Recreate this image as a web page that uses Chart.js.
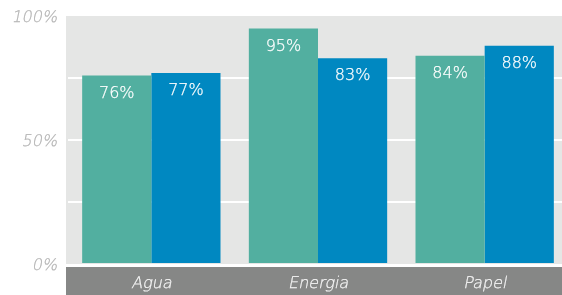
<!DOCTYPE html>
<html>
<head>
<meta charset="utf-8">
<script src="https://cdn.jsdelivr.net/npm/chart.js@4"></script>
<style>
  html, body { margin: 0; padding: 0; overflow: hidden; background: #fff; }
</style>
</head>
<body>
<canvas id="chart" width="568" height="295"></canvas>
<script>
const categories = ['Agua', 'Energia', 'Papel'];
const serieA = [76, 95, 84];
const serieB = [77, 83, 88];
const yTicks = [0, 50, 100];

const FONT = '200 16px "DejaVu Sans", sans-serif';

// light text, slightly thickened; optional slant since the light face has no italic
function label(ctx, text, x, y, slant) {
  ctx.save();
  ctx.translate(x, y);
  if (slant) ctx.transform(1, 0, -0.2, 1, 0, 0);
  ctx.strokeStyle = ctx.fillStyle;
  ctx.lineWidth = 0.25;
  ctx.fillText(text, 0, 0);
  ctx.strokeText(text, 0, 0);
  ctx.restore();
}

// gray plot background + dark band under the axis
const backdrop = {
  id: 'backdrop',
  beforeDraw(chart) {
    const { ctx, chartArea } = chart;
    const left = chartArea.left - 2;
    ctx.save();
    ctx.fillStyle = '#e5e6e5';
    ctx.fillRect(left, chartArea.top, chartArea.right - left, chartArea.bottom - chartArea.top);
    ctx.fillStyle = '#868786';
    ctx.fillRect(left, chartArea.bottom + 3, chartArea.right - left, chart.height - chartArea.bottom - 3);
    ctx.restore();
  },
  afterDraw(chart) {
    const { ctx, chartArea } = chart;
    const x = chart.scales.x;
    const y = chart.scales.y;
    ctx.save();
    ctx.font = FONT;
    ctx.textBaseline = 'middle';

    // y tick labels
    ctx.fillStyle = '#b4b4b4';
    ctx.textAlign = 'right';
    yTicks.forEach(v => label(ctx, v + '%', 58, y.getPixelForValue(v) + 2, true));

    // category labels in the band
    ctx.textAlign = 'center';
    ctx.fillStyle = '#f4f4f4';
    categories.forEach((c, i) => label(ctx, c, x.getPixelForValue(i) + 1, chartArea.bottom + 20, true));

    // value labels inside bars
    ctx.fillStyle = '#ffffff';
    chart.data.datasets.forEach((ds, di) => {
      chart.getDatasetMeta(di).data.forEach((bar, i) => {
        label(ctx, ds.data[i] + '%', bar.x, bar.y + 18, false);
      });
    });
    ctx.restore();
  }
};

new Chart(document.getElementById('chart'), {
  type: 'bar',
  data: {
    labels: categories,
    datasets: [
      { data: serieA, backgroundColor: '#52afa0' },
      { data: serieB, backgroundColor: '#0088c1' }
    ]
  },
  options: {
    responsive: false,
    animation: false,
    layout: { padding: { top: 16, bottom: 31, right: 0, left: 0 } },
    plugins: { legend: { display: false }, tooltip: { enabled: false } },
    datasets: { bar: { categoryPercentage: 0.83, barPercentage: 1, borderWidth: 0 } },
    scales: {
      x: { display: false },
      y: {
        min: 0, max: 100,
        afterFit(s) { s.width = 68; },
        border: { display: false },
        grid: {
          drawTicks: false,
          lineWidth: 2,
          color: c => (c.tick && (c.tick.value === 0 || c.tick.value === 100)) ? 'rgba(0,0,0,0)' : '#ffffff'
        },
        ticks: { stepSize: 25, display: false }
      }
    }
  },
  plugins: [backdrop]
});
</script>
</body>
</html>
